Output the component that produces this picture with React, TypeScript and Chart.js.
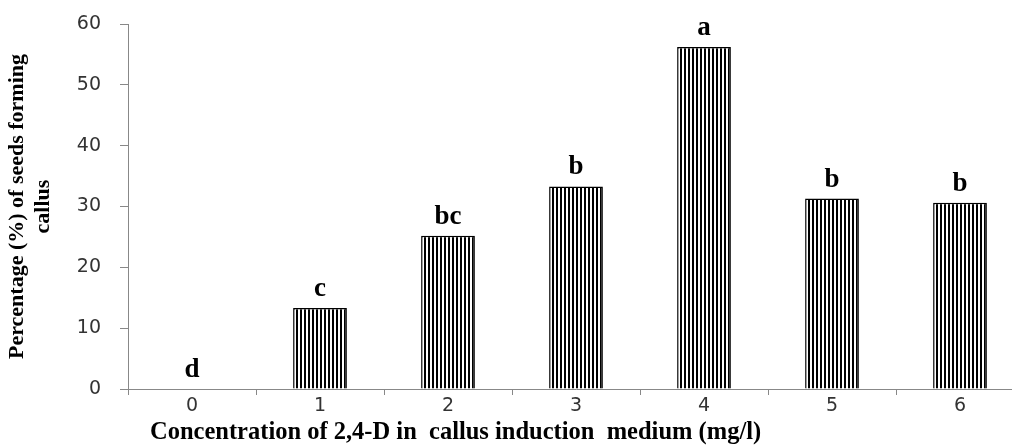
import React, { useEffect, useRef } from "react";
import { Chart, registerables } from "chart.js";

Chart.register(...registerables);

const categories = ["0", "1", "2", "3", "4", "5", "6"];
const values = [0, 13.3, 25.2, 33.3, 56.2, 31.3, 30.6];
const letters = ["d", "c", "bc", "b", "a", "b", "b"];
const yTicks = [0, 10, 20, 30, 40, 50, 60];
const yTitle = ["Percentage (%) of seeds forming", "callus"];
const xTitle = "Concentration of 2,4-D in  callus induction  medium (mg/l)";

function makePattern(): CanvasPattern | string {
  const c = document.createElement("canvas");
  c.width = 4;
  c.height = 4;
  const ctx = c.getContext("2d");
  if (!ctx) return "#000";
  ctx.fillStyle = "#fff";
  ctx.fillRect(0, 0, 4, 4);
  ctx.fillStyle = "#000";
  ctx.fillRect(0, 0, 2, 4);
  return ctx.createPattern(c, "repeat") || "#000";
}

const lettersPlugin = {
  id: "letters",
  afterDatasetsDraw(chart: any) {
    const ctx = chart.ctx;
    const meta = chart.getDatasetMeta(0);
    ctx.save();
    ctx.font = "bold 27px 'Liberation Serif'";
    ctx.fillStyle = "#000";
    ctx.textAlign = "center";
    ctx.textBaseline = "alphabetic";
    meta.data.forEach((bar: any, i: number) => {
      ctx.fillText(letters[i], bar.x, bar.y - 12);
    });
    ctx.restore();
  },
};

const xTitlePlugin = {
  id: "xTitleCustom",
  afterDraw(chart: any) {
    const ctx = chart.ctx;
    const xs = chart.scales.x;
    ctx.save();
    ctx.font = "bold 24.5px 'Liberation Serif'";
    ctx.fillStyle = "#000";
    ctx.textAlign = "left";
    ctx.textBaseline = "middle";
    ctx.fillText(xTitle, xs.left + 22, xs.top + 44);
    ctx.restore();
  },
};

export default function App() {
  const ref = useRef<HTMLCanvasElement | null>(null);
  useEffect(() => {
    if (!ref.current) return;
    const chart = new Chart(ref.current, {
      type: "bar",
      data: {
        labels: categories,
        datasets: [
          {
            data: values,
            backgroundColor: makePattern() as any,
            borderColor: "#000",
            borderWidth: 1.5,
            barPercentage: 0.42,
            categoryPercentage: 1,
          },
        ],
      },
      options: {
        animation: false,
        responsive: false,
        maintainAspectRatio: false,
        layout: { padding: { top: 24, right: 16, left: 0, bottom: 0 } },
        plugins: { legend: { display: false }, tooltip: { enabled: false } },
        scales: {
          x: {
            offset: true,
            grid: {
              offset: true,
              drawOnChartArea: false,
              drawTicks: true,
              tickLength: 6,
              color: "#888",
            },
            border: { color: "#888", width: 1 },
            ticks: {
              color: "#333",
              font: { family: "'DejaVu Sans'", size: 19 },
              padding: 0,
            },
            afterFit: (s: any) => {
              s.height = 58;
            },
          },
          y: {
            min: 0,
            max: 60,
            afterBuildTicks: (s: any) => {
              s.ticks = yTicks.map((v) => ({ value: v }));
            },
            grid: {
              drawOnChartArea: false,
              drawTicks: true,
              tickLength: 8,
              color: "#888",
            },
            border: { color: "#888", width: 1 },
            ticks: {
              color: "#333",
              font: { family: "'DejaVu Sans'", size: 19 },
              padding: 19,
            },
            title: {
              display: true,
              text: yTitle,
              color: "#000",
              font: { family: "'Liberation Serif'", size: 22, weight: "bold", lineHeight: 1.2 },
              padding: { top: 4, bottom: 0 },
            },
            afterFit: (s: any) => {
              s.width = 128;
              s.paddingTop = 0;
              s.paddingBottom = 0;
            },
          },
        },
      },
      plugins: [lettersPlugin, xTitlePlugin],
    });
    return () => chart.destroy();
  }, []);
  return (
    <div
      style={{
        position: "fixed",
        left: 0,
        top: 0,
        width: 1012,
        height: 447,
        overflow: "hidden",
        background: "#fff",
      }}
    >
      <canvas ref={ref} width={1040} height={447} style={{ display: "block" }} />
    </div>
  );
}
